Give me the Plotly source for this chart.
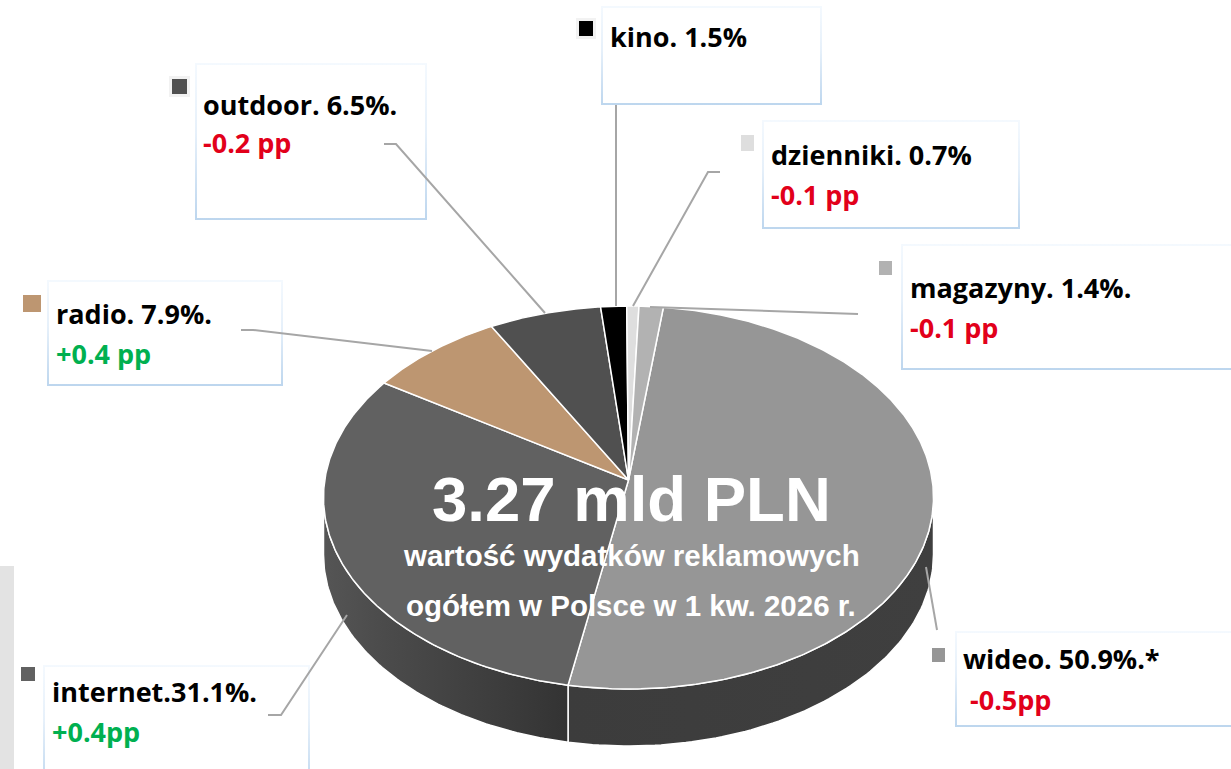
import math
import numpy as np
import plotly.graph_objects as go

# ---------- data ----------
categories = ["wideo", "internet", "radio", "outdoor", "kino", "dzienniki", "magazyny"]
shares = [50.9, 31.1, 7.9, 6.5, 1.5, 0.7, 1.4]
slice_colors = ["#969696", "#616161", "#BD9671", "#505050", "#000000", "#DEDEDE", "#B2B2B2"]
label_main = ["wideo. 50.9%.*", "internet.31.1%.", "radio. 7.9%.", "outdoor. 6.5%.", "kino. 1.5%",
              "dzienniki. 0.7%", "magazyny. 1.4%."]
label_change = [" -0.5pp", "+0.4pp", "+0.4 pp", "-0.2 pp", "", "-0.1 pp", "-0.1 pp"]
title_main = "3.27 mld PLN"
title_sub = ["wartość wydatków reklamowych", "ogółem w Polsce w 1 kw. 2026 r."]

# ---------- layout constants ----------
W, H = 1231, 769
CX, CY_APEX, RX = 628.5, 480.0, 305.0
Y_FAR, Y_NEAR = 306.0, 689.0
DEPTH = 57.0
START_DEG = 7.2
RED, GREEN = "#E2001A", "#00B050"

boxes = {  # x0, y0, x1, y1
    "wideo": (955, 631, 1245, 727), "internet": (43, 665, 310, 790), "radio": (47, 280, 283, 386),
    "outdoor": (195, 63, 427, 220), "kino": (601, 6, 822, 105), "dzienniki": (762, 120, 1020, 229),
    "magazyny": (901, 244, 1245, 370),
}
text_pos = {  # x line 1, y line 1, x line 2, y line 2
    "wideo": (961, 658, 961, 699), "internet": (50, 691, 50, 731), "radio": (54, 313, 54, 353),
    "outdoor": (201, 104, 201, 142), "kino": (608, 36, 608, 36), "dzienniki": (769, 154, 769, 194),
    "magazyny": (908, 287, 908, 327),
}
keys = {  # x0, y0, x1, y1, halo
    "wideo": (932, 648, 945, 662, False), "internet": (21, 667, 35, 681, False),
    "radio": (23, 295, 41, 312, False), "outdoor": (172, 79, 187, 94, True),
    "kino": (579, 21, 593, 36, True), "dzienniki": (741, 135, 754, 151, False),
    "magazyny": (879, 261, 892, 275, False),
}
leaders = {
    "wideo": ([926, 937], [567, 630]),
    "internet": ([268, 281, 347], [715, 715, 615]),
    "radio": ([241, 253, 432], [330, 330, 351]),
    "outdoor": ([384, 396, 545], [144, 144, 313]),
    "kino": ([616, 616], [105, 306]),
    "dzienniki": ([720, 708, 633], [172, 172, 306]),
    "magazyny": ([858, 650], [314, 307]),
}

# ---------- perspective projection of the round pie ----------
span_near = Y_NEAR - CY_APEX
span_far = CY_APEX - Y_FAR
c = (span_near - span_far) / (Y_NEAR - Y_FAR)
a = Y_FAR * c - span_far
k = math.sqrt(1 - c * c)


def project(deg):
    t = np.radians(deg)
    u, v = np.sin(t), np.cos(t)
    w = 1 + c * v
    return CX + RX * k * u / w, (a * v + CY_APEX) / w


fig = go.Figure()


def poly(xs, ys, **kw):
    fig.add_trace(go.Scatter(x=list(xs), y=list(ys), mode="lines", fill="toself", hoverinfo="skip",
                             showlegend=False, **kw))


# boxes: gradient frame with a white interior
for name in categories:
    x0, y0, x1, y1 = boxes[name]
    poly([x0, x1, x1, x0, x0], [y0, y0, y1, y1, y0], line=dict(width=0),
         fillgradient=dict(type="vertical",
                           colorscale=[[0, "#BDD6EE"], [0.55, "#E6F0FA"], [1, "#F4F9FE"]]))
    poly([x0 + 2, x1 - 2, x1 - 2, x0 + 2, x0 + 2], [y0 + 2, y0 + 2, y1 - 2, y1 - 2, y0 + 2],
         line=dict(width=0), fillcolor="#FFFFFF")

# slice boundaries from the shares
edges = START_DEG + np.concatenate([[0], np.cumsum(shares)]) * 3.6
seam = edges[1]
right_deg = math.degrees(math.acos(-c))
left_deg = 360 - right_deg

# side wall, split where the two big slices meet at the front
for d0, d1, stops in [
    (right_deg, seam, [[0, "#3C3C3C"], [1, "#3F3F3F"]]),
    (seam, left_deg, [[0, "#555555"], [0.25, "#4B4B4B"], [0.8, "#3A3A3A"], [1, "#333333"]]),
]:
    th = np.linspace(d0, d1, 90)
    x, y = project(th)
    poly(np.r_[x, x[::-1], x[0]], np.r_[y, y[::-1] + DEPTH, y[0]],
         line=dict(color="#FFFFFF", width=1.5),
         fillgradient=dict(type="horizontal", colorscale=stops))

# top face
for name, col, d0, d1, val in zip(categories, slice_colors, edges[:-1], edges[1:], shares):
    th = np.linspace(d0, d1, max(int((d1 - d0) * 2), 6))
    x, y = project(th)
    fig.add_trace(go.Scatter(x=np.r_[CX, x, CX], y=np.r_[CY_APEX, y, CY_APEX], mode="lines", fill="toself",
                             fillcolor=col, line=dict(color="#FFFFFF", width=1.5), name=name,
                             hoverinfo="text", text=f"{name}: {val}%", showlegend=False))

# leader lines
for name in categories:
    lx, ly = leaders[name]
    fig.add_trace(go.Scatter(x=lx, y=ly, mode="lines", line=dict(color="#A6A6A6", width=2),
                             hoverinfo="skip", showlegend=False))

# keys and the grey strip at the left edge
shapes = [dict(type="rect", x0=0, x1=14, y0=566, y1=769, fillcolor="#E3E3E3", line_width=0, layer="below")]
for name, col in zip(categories, slice_colors):
    x0, y0, x1, y1, halo = keys[name]
    if halo:
        shapes.append(dict(type="rect", x0=x0 - 3, x1=x1 + 3, y0=y0 - 3, y1=y1 + 3,
                           fillcolor="#F2F2F2", line_width=0))
    shapes.append(dict(type="rect", x0=x0, x1=x1, y0=y0, y1=y1, fillcolor=col, line_width=0))

# labels
ann = []
LABEL_FONT = "Open Sans"
LABEL_SIZE = 27
for name, main, chg in zip(categories, label_main, label_change):
    x1t, y1t, x2t, y2t = text_pos[name]
    ann.append(dict(x=x1t, y=y1t, text=main, showarrow=False, xanchor="left", yanchor="middle",
                    font=dict(family=LABEL_FONT, size=LABEL_SIZE, color="#000000")))
    if chg:
        ann.append(dict(x=x2t, y=y2t, text=chg.replace(" ", "&nbsp;", 1) if chg.startswith(" ") else chg,
                        showarrow=False, xanchor="left", yanchor="middle",
                        font=dict(family=LABEL_FONT, size=LABEL_SIZE,
                                  color=GREEN if chg.strip()[0] == "+" else RED)))
ann.append(dict(x=631, y=499, text=title_main, showarrow=False, xanchor="center", yanchor="middle",
                font=dict(family="Liberation Sans", size=63.5, color="#FFFFFF")))
for txt, yy in zip(title_sub, [555, 605]):
    ann.append(dict(x=631, y=yy, text=f"<b>{txt}</b>", showarrow=False, xanchor="center", yanchor="middle",
                    font=dict(family="Liberation Sans", size=29.5, color="#FFFFFF")))
for a_ in ann:
    if a_["text"] and not a_["text"].startswith("<b>"):
        a_["text"] = f"<b>{a_['text']}</b>"
    a_["xref"], a_["yref"] = "x", "y"

fig.update_layout(
    width=W, height=H, margin=dict(l=0, r=0, t=0, b=0), autosize=False,
    paper_bgcolor="#FFFFFF", plot_bgcolor="#FFFFFF", showlegend=False,
    xaxis=dict(range=[0, W], visible=False, fixedrange=True),
    yaxis=dict(range=[H, 0], visible=False, fixedrange=True),
    shapes=shapes, annotations=ann,
)
fig.write_html("out.html", config={"displayModeBar": False},
               post_script="document.body.style.margin='0';document.body.style.overflow='hidden';")
